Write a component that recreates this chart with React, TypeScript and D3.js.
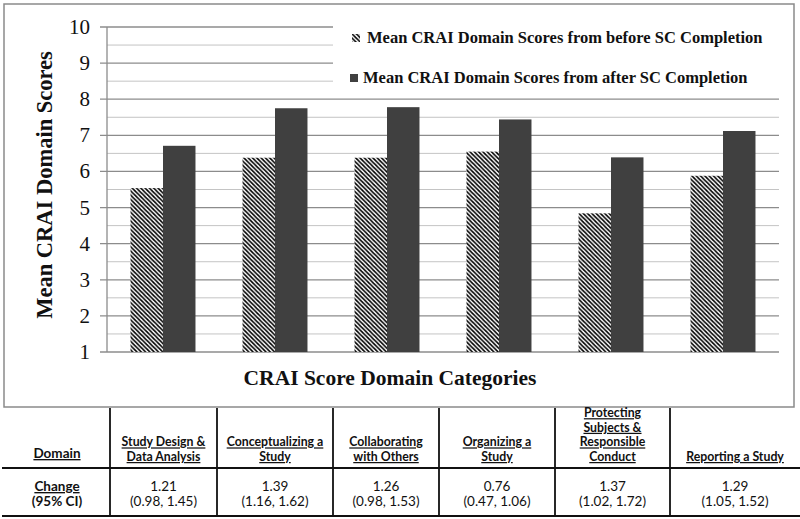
import React from "react";
import * as d3 from "d3";

const categories = [
  "Study Design & Data Analysis",
  "Conceptualizing a Study",
  "Collaborating with Others",
  "Organizing a Study",
  "Protecting Subjects & Responsible Conduct",
  "Reporting a Study",
];
const beforeScores = [5.54, 6.38, 6.38, 6.55, 4.84, 5.88];
const afterScores = [6.71, 7.75, 7.78, 7.44, 6.39, 7.12];
const seriesNames = [
  "Mean CRAI Domain Scores from before SC Completion",
  "Mean CRAI Domain Scores from after SC Completion",
];
const yTicks = [1, 2, 3, 4, 5, 6, 7, 8, 9, 10];
const headerLines = [
  ["Study Design &", "Data Analysis"],
  ["Conceptualizing a", "Study"],
  ["Collaborating", "with Others"],
  ["Organizing a", "Study"],
  ["Protecting", "Subjects &", "Responsible", "Conduct"],
  ["Reporting a Study"],
];
const changeValues = ["1.21", "1.39", "1.26", "0.76", "1.37", "1.29"];
const ciValues = [
  "(0.98, 1.45)",
  "(1.16, 1.62)",
  "(0.98, 1.53)",
  "(0.47, 1.06)",
  "(1.02, 1.72)",
  "(1.05, 1.52)",
];

const W = 800;
const H = 519;
const plot = { left: 107, right: 779, top: 27, bottom: 352 };
const colEdges = [0, 110, 217, 333, 439, 555, 670, 800];
const serif = "'Liberation Serif', 'Times New Roman', serif";
const sans = "Lato, 'Open Sans', sans-serif";
const dark = "#404040";

export default function App() {
  const y = d3.scaleLinear().domain([1, 10]).range([plot.bottom, plot.top]);
  const x0 = d3
    .scaleBand<string>()
    .domain(categories)
    .range([plot.left, plot.right])
    .paddingInner(0.42)
    .paddingOuter(0.21);
  const x1 = d3
    .scaleBand<string>()
    .domain(["before", "after"])
    .range([0, x0.bandwidth()]);
  const minorTicks = d3.range(1.5, 10, 1);

  const colCenter = (i: number) => (colEdges[i] + colEdges[i + 1]) / 2;
  const headerBottom = 461;
  const lineH = 14.6;

  return (
    <svg
      width={W}
      height={H}
      style={{ position: "absolute", left: 0, top: 0, background: "#fff" }}
    >
      <defs>
        <pattern
          id="hatch"
          patternUnits="userSpaceOnUse"
          width={4.3}
          height={4.3}
        >
          <rect width={4.3} height={4.3} fill="#fff" />
          <path
            d="M-1,-1 L5.3,5.3 M-1,3.3 L1,5.3 M3.3,-1 L5.3,1"
            stroke="#000"
            strokeWidth={1.6}
          />
        </pattern>
      </defs>
      <rect x={0} y={0} width={W} height={H} fill="#fff" />
      {/* chart outer box */}
      <rect
        x={4}
        y={4}
        width={790}
        height={403}
        fill="#fff"
        stroke="#8a8a8a"
        strokeWidth={1.5}
      />
      {/* minor gridlines */}
      {minorTicks.map((t) => (
        <line
          key={"m" + t}
          x1={plot.left}
          x2={plot.right}
          y1={y(t)}
          y2={y(t)}
          stroke="#c4c4c4"
          strokeWidth={1}
        />
      ))}
      {/* major gridlines */}
      {yTicks.map((t) => (
        <line
          key={"M" + t}
          x1={plot.left - 7}
          x2={plot.right}
          y1={y(t)}
          y2={y(t)}
          stroke="#8c8c8c"
          strokeWidth={1.3}
        />
      ))}
      <line
        x1={plot.left}
        x2={plot.left}
        y1={plot.top}
        y2={plot.bottom}
        stroke="#8c8c8c"
        strokeWidth={1.3}
      />
      {/* legend background */}
      <rect x={333} y={18} width={446} height={72} fill="#fff" />
      {/* bars */}
      {categories.map((c, i) => (
        <g key={c}>
          <rect
            x={(x0(c) as number) + (x1("before") as number)}
            y={y(beforeScores[i])}
            width={x1.bandwidth()}
            height={y(1) - y(beforeScores[i])}
            fill="url(#hatch)"
          />
          <rect
            x={(x0(c) as number) + (x1("after") as number)}
            y={y(afterScores[i])}
            width={x1.bandwidth()}
            height={y(1) - y(afterScores[i])}
            fill={dark}
          />
        </g>
      ))}
      {/* y tick labels */}
      {yTicks.map((t) => (
        <text
          key={"t" + t}
          x={90}
          y={y(t) + 7}
          textAnchor="end"
          fontFamily={serif}
          fontSize={21}
          fill="#111"
        >
          {t}
        </text>
      ))}
      {/* axis titles */}
      <text
        transform="translate(52,185) rotate(-90)"
        textAnchor="middle"
        fontFamily={serif}
        fontWeight="bold"
        fontSize={22.5}
        fill="#111"
      >
        Mean CRAI Domain Scores
      </text>
      <text
        x={390}
        y={385}
        textAnchor="middle"
        fontFamily={serif}
        fontWeight="bold"
        fontSize={21.5}
        fill="#111"
      >
        CRAI Score Domain Categories
      </text>
      {/* legend */}
      <rect x={352} y={34} width={8} height={8} fill="url(#hatch)" />
      <text
        x={367}
        y={43}
        fontFamily={serif}
        fontWeight="bold"
        fontSize={16.5}
        fill="#111"
      >
        {seriesNames[0]}
      </text>
      <rect x={350} y={74} width={8} height={8} fill={dark} />
      <text
        x={363}
        y={83}
        fontFamily={serif}
        fontWeight="bold"
        fontSize={16.5}
        fill="#111"
      >
        {seriesNames[1]}
      </text>
      {/* table */}
      {colEdges.slice(1, -1).map((e) => (
        <line
          key={"v" + e}
          x1={e}
          x2={e}
          y1={408}
          y2={517}
          stroke="#111"
          strokeWidth={1.8}
        />
      ))}
      <line x1={2} x2={800} y1={468} y2={468} stroke="#111" strokeWidth={1.8} />
      <line x1={2} x2={800} y1={516} y2={516} stroke="#111" strokeWidth={1.8} />
      <text
        x={colCenter(0) + 2}
        y={458}
        textAnchor="middle"
        fontFamily={sans}
        fontWeight="bold"
        fontSize={13.5}
        fill="#111"
        style={{ textDecoration: "underline" }}
      >
        Domain
      </text>
      {headerLines.map((lines, i) => (
        <g key={"h" + i}>
          {lines.map((ln, j) => (
            <text
              key={j}
              x={colCenter(i + 1)}
              y={headerBottom - (lines.length - 1 - j) * lineH}
              textAnchor="middle"
              fontFamily={sans}
              fontWeight="bold"
              fontSize={12.3}
              fill="#111"
              style={{ textDecoration: "underline" }}
            >
              {ln}
            </text>
          ))}
        </g>
      ))}
      <text
        x={colCenter(0) + 2}
        y={491}
        textAnchor="middle"
        fontFamily={sans}
        fontWeight="bold"
        fontSize={13.5}
        fill="#111"
        style={{ textDecoration: "underline" }}
      >
        Change
      </text>
      <text
        x={colCenter(0) + 2}
        y={506}
        textAnchor="middle"
        fontFamily={sans}
        fontWeight="bold"
        fontSize={13.5}
        fill="#111"
      >
        (95% CI)
      </text>
      {changeValues.map((v, i) => (
        <g key={"c" + i}>
          <text
            x={colCenter(i + 1)}
            y={491}
            textAnchor="middle"
            fontFamily={sans}
            fontSize={13.5}
            fill="#111"
          >
            {v}
          </text>
          <text
            x={colCenter(i + 1)}
            y={506}
            textAnchor="middle"
            fontFamily={sans}
            fontSize={13.5}
            fill="#111"
          >
            {ciValues[i]}
          </text>
        </g>
      ))}
    </svg>
  );
}
